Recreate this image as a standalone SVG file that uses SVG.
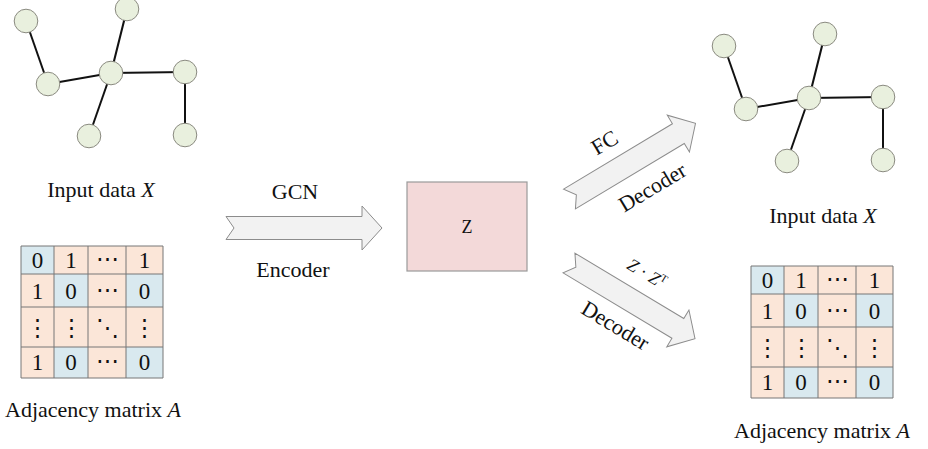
<svg xmlns="http://www.w3.org/2000/svg" xmlns:xlink="http://www.w3.org/1999/xlink" width="928" height="449" viewBox="0 0 928 449">
  <style>
    text { font-family: "Liberation Serif", "DejaVu Serif", serif; fill: #111; }
    .lbl { font-size: 22px; text-anchor: middle; }
    .num { font-size: 23px; text-anchor: middle; }
    .it { font-style: italic; }
    .edge { stroke: #111; stroke-width: 2; fill: none; }
    .node { fill: #e9f0de; stroke: #8a8a80; stroke-width: 1; }
    .arrow { fill: #f2f2f2; stroke: #8c8c8c; stroke-width: 1; }
    .pk { fill: #fbe6d8; }
    .bl { fill: #d9e9ef; }
    .grid { stroke: #777; stroke-width: 1; fill: none; }
    .zbox { fill: #f3d9d9; stroke: #9a9a9a; stroke-width: 1.2; }
  </style>
  <defs>
    <!-- block arrow, tail centre at origin, pointing along +x -->
    <path id="blockArrow" d="M0,-11.5 L136,-11.5 L136,-22 L156,0 L136,22 L136,11.5 L0,11.5 L8,0 Z"/>
    <path id="blockArrowShort" d="M0,-11.5 L127,-11.5 L127,-21.5 L147,0 L127,21.5 L127,11.5 L0,11.5 L8,0 Z"/>

    <!-- small graph: edges then nodes -->
    <g id="graph">
      <g class="edges">
        <line class="edge" x1="26" y1="21" x2="48" y2="84"/>
        <line class="edge" x1="48" y1="84" x2="111" y2="73"/>
        <line class="edge" x1="111" y1="73" x2="127" y2="9"/>
        <line class="edge" x1="111" y1="73" x2="185" y2="72"/>
        <line class="edge" x1="111" y1="73" x2="89" y2="136"/>
        <line class="edge" x1="185" y1="72" x2="185" y2="135"/>
      </g>
      <circle class="node" cx="26" cy="21" r="11.8"/>
      <circle class="node" cx="127" cy="9" r="11.8"/>
      <circle class="node" cx="48" cy="84" r="11.8"/>
      <circle class="node" cx="111" cy="73" r="11.8"/>
      <circle class="node" cx="185" cy="72" r="11.8"/>
      <circle class="node" cx="89" cy="136" r="11.8"/>
      <circle class="node" cx="185" cy="135" r="11.8"/>
    </g>

    <!-- adjacency matrix grid with entries, top-left at (21,246) -->
    <g id="matrix">
      <rect class="bl" x="21" y="246" width="33" height="28"/>
      <rect class="pk" x="54" y="246" width="34" height="28"/>
      <rect class="pk" x="88" y="246" width="38" height="28"/>
      <rect class="pk" x="126" y="246" width="37" height="28"/>
      <rect class="pk" x="21" y="274" width="33" height="33"/>
      <rect class="bl" x="54" y="274" width="34" height="33"/>
      <rect class="pk" x="88" y="274" width="38" height="33"/>
      <rect class="bl" x="126" y="274" width="37" height="33"/>
      <rect class="pk" x="21" y="307" width="142" height="40"/>
      <rect class="pk" x="21" y="347" width="33" height="31"/>
      <rect class="bl" x="54" y="347" width="34" height="31"/>
      <rect class="pk" x="88" y="347" width="38" height="31"/>
      <rect class="bl" x="126" y="347" width="37" height="31"/>
      <path class="grid" d="M21,246 H163 V378 H21 Z M54,246 V378 M88,246 V378 M126,246 V378 M21,274 H163 M21,307 H163 M21,347 H163"/>
      <text class="num" x="37.5" y="268">0</text>
      <text class="num" x="71" y="268">1</text>
      <text class="num" x="107" y="266">⋯</text>
      <text class="num" x="144.5" y="268">1</text>
      <text class="num" x="37.5" y="299">1</text>
      <text class="num" x="71" y="299">0</text>
      <text class="num" x="107" y="297">⋯</text>
      <text class="num" x="144.5" y="299">0</text>
      <text class="num" x="37.5" y="335">⋮</text>
      <text class="num" x="71" y="335">⋮</text>
      <text class="num" x="107" y="335">⋱</text>
      <text class="num" x="144.5" y="335">⋮</text>
      <text class="num" x="37.5" y="370">1</text>
      <text class="num" x="71" y="370">0</text>
      <text class="num" x="107" y="368">⋯</text>
      <text class="num" x="144.5" y="370">0</text>
    </g>
  </defs>

  <!-- input side -->
  <g id="input-graph">
    <use xlink:href="#graph"/>
    <text class="lbl" x="101" y="197">Input data <tspan class="it">X</tspan></text>
  </g>
  <g id="input-matrix">
    <use xlink:href="#matrix"/>
    <text class="lbl" x="93" y="417">Adjacency matrix <tspan class="it">A</tspan></text>
  </g>

  <!-- latent representation -->
  <g id="latent-z">
    <rect class="zbox" x="407" y="182" width="120" height="89"/>
    <text x="467" y="233" style="font-size:18px;text-anchor:middle">Z</text>
  </g>

  <!-- reconstructed side -->
  <g id="output-graph">
    <use xlink:href="#graph" transform="translate(698,25)"/>
    <text class="lbl" x="823" y="223">Input data <tspan class="it">X</tspan></text>
  </g>
  <g id="output-matrix">
    <use xlink:href="#matrix" transform="translate(730,20)"/>
    <text class="lbl" x="822" y="438">Adjacency matrix <tspan class="it">A</tspan></text>
  </g>

  <!-- connectors -->
  <g id="connectors">
    <g id="encoder" transform="translate(226,228)">
      <use xlink:href="#blockArrow" class="arrow"/>
      <text class="lbl" x="69" y="-29">GCN</text>
      <text class="lbl" x="67" y="49">Encoder</text>
    </g>
    <g id="fc-decoder" transform="translate(569.5,199) rotate(-31)">
      <use xlink:href="#blockArrowShort" class="arrow"/>
      <text class="lbl" x="59" y="-23">FC</text>
      <text class="lbl" x="77" y="40">Decoder</text>
    </g>
    <g id="inner-product-decoder" transform="translate(569,263) rotate(31)">
      <use xlink:href="#blockArrowShort" class="arrow"/>
      <text x="72" y="-25" style="font-size:18px;text-anchor:middle"><tspan class="it">Z</tspan> · <tspan class="it">Z</tspan><tspan style="font-size:11px" dy="-7">T</tspan></text>
      <text class="lbl" x="72" y="37">Decoder</text>
    </g>
  </g>
</svg>
